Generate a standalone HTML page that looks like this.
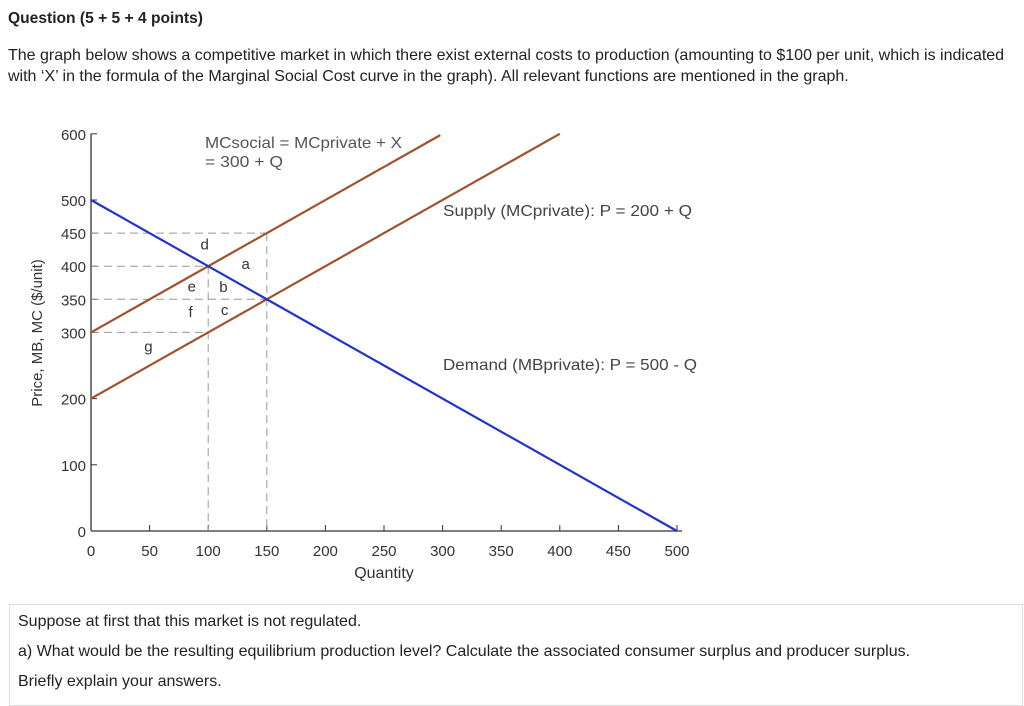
<!DOCTYPE html>
<html><head><meta charset="utf-8"><style>
body{margin:0;width:1024px;height:698px;background:#fff;font-family:"Liberation Sans",sans-serif;color:#222;overflow:hidden;position:relative}
.t{position:absolute;font-size:16px}
</style></head><body>
<div class="t" style="left:8px;top:10px;font-weight:bold;font-size:15.6px">Question (5 + 5 + 4 points)</div>
<div class="t" style="left:8px;top:45px;line-height:21px;width:1005px">The graph below shows a competitive market in which there exist external costs to production (amounting to $100 per unit, which is indicated with ‘X’ in the formula of the Marginal Social Cost curve in the graph). All relevant functions are mentioned in the graph.</div>
<svg id="chart" width="1024" height="600" style="position:absolute;left:0;top:0" font-family="Liberation Sans, sans-serif"></svg>
<div style="position:absolute;left:9px;top:604px;width:1012px;height:100px;border:1px solid #ddd"></div>
<div class="t" style="left:18px;top:613px">Suppose at first that this market is not regulated.</div>
<div class="t" style="left:18px;top:643px">a) What would be the resulting equilibrium production level? Calculate the associated consumer surplus and producer surplus.</div>
<div class="t" style="left:18px;top:673px">Briefly explain your answers.</div>
<script>
const xTicks=[0,50,100,150,200,250,300,350,400,450,500];
const yTicks=[0,100,200,300,350,400,450,500,600];
const demandQ=[0,500], demandP=[500,0];
const supplyQ=[0,400], supplyP=[200,600];
const socialQ=[0,298], socialP=[300,598];
const hDash=[[450,150],[400,100],[350,150],[300,100]];
const vDash=[[100,400],[150,450]];
const regions=[['d',97,425],['a',132,396],['e',86,362],['b',113,361],['f',85,323],['c',114,326],['g',49,271]];
const svg=document.getElementById('chart');const NS='http://www.w3.org/2000/svg';
const X=q=>91+q*1.172, Y=p=>531-p*0.662;
function el(tag,a,txt){const e=document.createElementNS(NS,tag);for(const k in a)e.setAttribute(k,a[k]);if(txt!=null)e.textContent=txt;svg.appendChild(e);return e;}
let e;
e=el('line',{x1:X(0),y1:Y(0),x2:X(500)+5,y2:Y(0),stroke:'#333','stroke-width':1.3});


e=el('line',{x1:X(0),y1:Y(0),x2:X(0),y2:Y(600),stroke:'#333','stroke-width':1.3});


xTicks.forEach(v=>{
 e=el('line',{x1:X(v),y1:Y(0),x2:X(v),y2:Y(0)-6,stroke:'#333'});
 
 
 e=el('text',{x:X(v),y:Y(0)+25,'text-anchor':'middle','font-size':15,fill:'#333'},v);
 
 
});
yTicks.forEach(v=>{
 e=el('line',{x1:X(0),y1:Y(v),x2:X(0)+6,y2:Y(v),stroke:'#333'});
 
 
 e=el('text',{x:X(0)-5,y:Y(v)+6,'text-anchor':'end','font-size':15,fill:'#333'},v);
 
 
});
hDash.forEach(([p,q])=>{
 e=el('line',{x1:X(0),y1:Y(p),x2:X(q),y2:Y(p),stroke:'#999','stroke-dasharray':'8,5'});
 
 
});
vDash.forEach(([q,p])=>{
 e=el('line',{x1:X(q),y1:Y(p),x2:X(q),y2:Y(0),stroke:'#999','stroke-dasharray':'8,5'});
 
 
});
function line(qs,ps,c,name){e=el('line',{x1:X(qs[0]),y1:Y(ps[0]),x2:X(qs[1]),y2:Y(ps[1]),stroke:c,'stroke-width':2.2});
 
 }
line(socialQ,socialP,'#a0522d','mc-social-line');
line(supplyQ,supplyP,'#a0522d','supply-line');
line(demandQ,demandP,'#2233cc','demand-line');
regions.forEach(([l,q,p])=>{
 e=el('text',{x:X(q),y:Y(p),'text-anchor':'middle','font-size':15,fill:'#333'},l);
 
 
});
const labs=[['mc-social-label',205,148,'MCsocial = MCprivate + X','#555',197],['mc-social-formula',205,167,'= 300 + Q','#555',78],['supply-label',443,216,'Supply (MCprivate): P = 200 + Q','#444',249],['demand-label',443,370,'Demand (MBprivate): P = 500 - Q','#444',254]];
labs.forEach(([n,x,y,t,c,w])=>{e=el('text',{x:x,y:y,'font-size':16,fill:c,textLength:w,lengthAdjust:'spacingAndGlyphs'},t);
 
 });
e=el('text',{x:X(250),y:578,'text-anchor':'middle','font-size':16,fill:'#333'},'Quantity');


e=el('text',{x:0,y:0,'text-anchor':'middle','font-size':15,fill:'#333',transform:'translate(42,333) rotate(-90)'},'Price, MB, MC ($/unit)');


</script>
</body></html>
